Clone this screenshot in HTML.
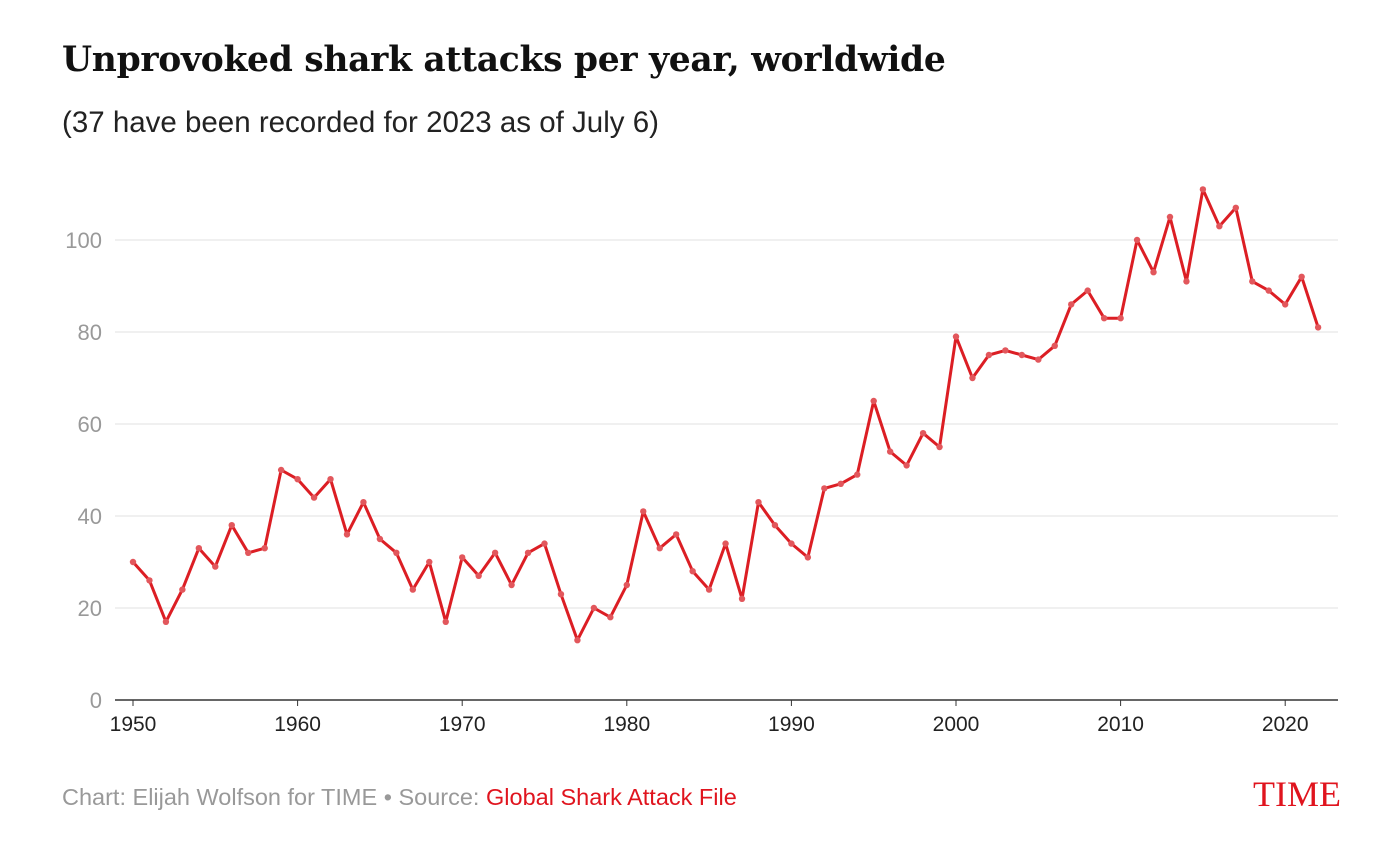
<!DOCTYPE html>
<html><head><meta charset="utf-8"><style>
body{margin:0;background:#fff;width:1394px;height:850px;overflow:hidden;font-family:"Liberation Sans",sans-serif}
#title{position:absolute;left:62px;top:40px;font-family:"DejaVu Serif","Liberation Serif",serif;font-weight:bold;font-size:34.5px;color:#111;letter-spacing:-0.3px;white-space:nowrap}
#sub{position:absolute;left:62px;top:106px;font-size:29.5px;color:#222;white-space:nowrap}
#foot{position:absolute;left:62px;top:784px;font-size:23.5px;color:#999;white-space:nowrap}
#foot span{color:#e0141e}
#logo{position:absolute;left:1253px;top:773px;font-family:"Liberation Serif",serif;font-size:36px;color:#e0141e}
svg{position:absolute;left:0;top:0}
</style></head><body>
<div id="title">Unprovoked shark attacks per year, worldwide</div>
<div id="sub">(37 have been recorded for 2023 as of July 6)</div>
<svg id="chart" width="1394" height="850"></svg>
<div id="foot">Chart: Elijah Wolfson for TIME • Source: <span>Global Shark Attack File</span></div>
<div id="logo">TIME</div>
<script>
const years=[];for(let y=1950;y<=2022;y++)years.push(y);
const attacks=[30,26,17,24,33,29,38,32,33,50,48,44,48,36,43,35,32,24,30,17,31,27,32,25,32,34,23,13,20,18,25,41,33,36,28,24,34,22,43,38,34,31,46,47,49,65,54,51,58,55,79,70,75,76,75,74,77,86,89,83,83,100,93,105,91,111,103,107,91,89,86,92,81];
const yTicks=[0,20,40,60,80,100];
const xTicks=[1950,1960,1970,1980,1990,2000,2010,2020];
const svg=document.getElementById('chart');const NS='http://www.w3.org/2000/svg';
const X=v=>133+(v-1950)*16.46;const Y=v=>700-v*4.6;
function mk(t,a){const e=document.createElementNS(NS,t);for(const k in a)e.setAttribute(k,a[k]);svg.appendChild(e);return e;}
yTicks.forEach(v=>{
 const l=mk('line',{x1:115,x2:1338,y1:Y(v),y2:Y(v),stroke:v?'#e2e2e2':'#333','stroke-width':v?1:1.5});
 
 
 const t=mk('text',{x:102,y:Y(v)+8,'text-anchor':'end','font-size':22,fill:'#999'});t.textContent=v;
 
 
});
xTicks.forEach(v=>{
 const k=mk('line',{x1:X(v),x2:X(v),y1:700,y2:706,stroke:'#333'});
 
 
 const t=mk('text',{x:X(v),y:731,'text-anchor':'middle','font-size':21,fill:'#222'});t.textContent=v;
 
 
});
const p=mk('polyline',{points:years.map((y,i)=>X(y)+','+Y(attacks[i])).join(' '),fill:'none',stroke:'#dc1e24','stroke-width':3,'stroke-linejoin':'round'});


years.forEach((y,i)=>{const c=mk('circle',{cx:X(y),cy:Y(attacks[i]),r:3.2,fill:'#e2575c'});
 
 
});
</script>
</body></html>
